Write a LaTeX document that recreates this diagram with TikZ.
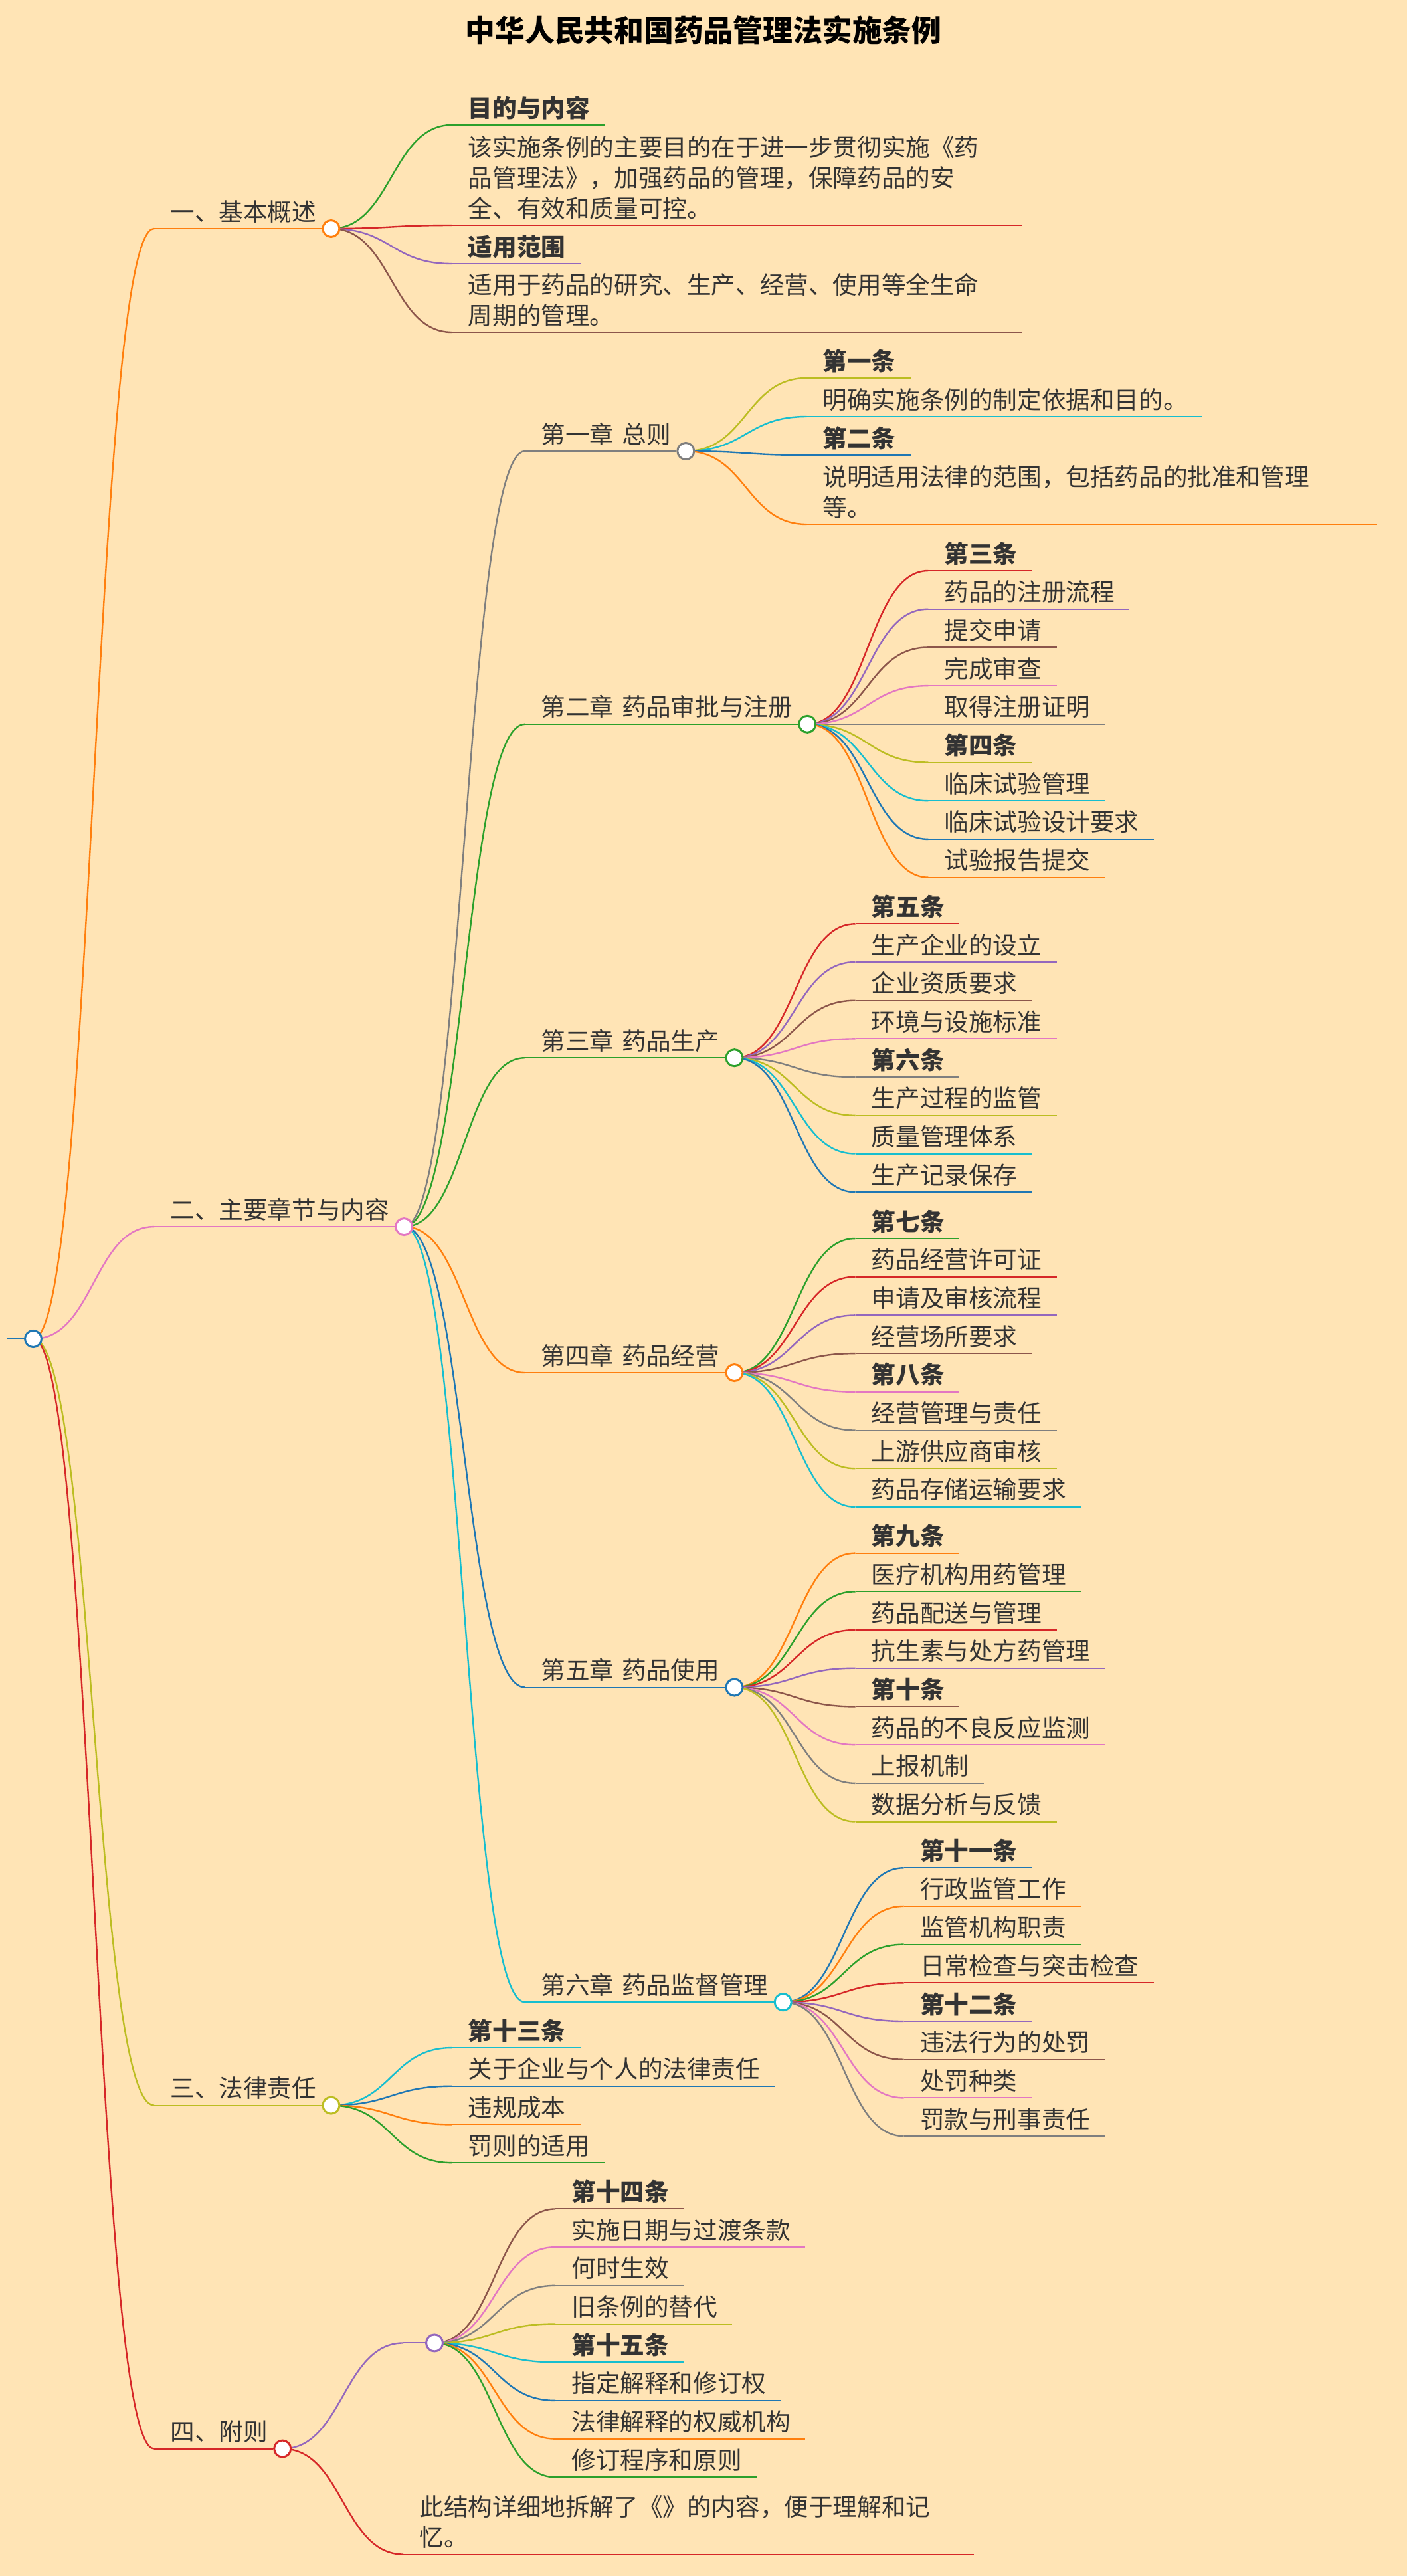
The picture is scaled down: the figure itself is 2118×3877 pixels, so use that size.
\documentclass[tikz,border=0pt]{standalone}
\usepackage{fontspec}
\setmainfont{Noto Sans CJK SC}[WordSpace=1.5]
\usetikzlibrary{calc}

\definecolor{c0}{HTML}{1F77B4}
\definecolor{c1}{HTML}{FF7F0E}
\definecolor{c2}{HTML}{2CA02C}
\definecolor{c3}{HTML}{D62728}
\definecolor{c4}{HTML}{9467BD}
\definecolor{c5}{HTML}{8C564B}
\definecolor{c6}{HTML}{E377C2}
\definecolor{c7}{HTML}{7F7F7F}
\definecolor{c8}{HTML}{BCBD22}
\definecolor{c9}{HTML}{17BECF}
\definecolor{paper}{HTML}{FFE4B5}
\definecolor{ink}{HTML}{333333}

\pgfdeclarelayer{bg}
\pgfsetlayers{bg,main}

\tikzset{
  tx/.style={anchor=base west, inner xsep=11pt, inner ysep=0pt, xshift=1pt, text=ink,
    font=\fontsize{18.3pt}{23pt}\selectfont},
  hd/.style={tx, font=\bfseries\fontsize{18.3pt}{23pt}\selectfont},
  dot/.style={circle, draw=#1, fill=white, line width=1.5pt, minimum size=12.5pt, inner sep=0pt},
  uline/.style={line width=1pt},
  link/.style={line width=1.2pt, to path={let \p1=(\tikztostart), \p2=(\tikztotarget) in
    .. controls ({(\x1+\x2)/2},\y1) and ({(\x1+\x2)/2},\y2) .. (\tikztotarget)}},
}

\begin{document}
\begin{tikzpicture}[x=0.5pt, y=-0.5pt]
\begin{pgfonlayer}{bg}
  \fill[paper] (0,0) rectangle (2118,3877);
\end{pgfonlayer}
\useasboundingbox (0,0) rectangle (2118,3877);

% title
\node[anchor=base, font=\bfseries\fontsize{22.4pt}{27pt}\selectfont] (title) at (1059,62) {中华人民共和国药品管理法实施条例};

% root
\coordinate (r-u) at (10,2015);
\node[dot=c0] (r) at (50,2015) {};
\begin{pgfonlayer}{bg}
  \draw[c0, uline] (r-u) -- (r);
\end{pgfonlayer}

% level 1
\path (r.center) ++(91pt,0) coordinate (r-x);
\foreach \col/\yy/\lab [count=\i] in {c1/344/一、基本概述, c6/1846.1/二、主要章节与内容, c8/3168.6/三、法律责任, c3/3685.5/四、附则}{
  \coordinate (l\i-u) at (r-x |- 0,\yy);
  \node[tx] (l\i-t) at ([yshift=6pt]l\i-u) {\lab};
  \node[dot=\col] (l\i) at (l\i-t.east |- l\i-u) {};
  \begin{pgfonlayer}{bg}
    \draw[\col, uline] (l\i-u) -- (l\i);
    \draw[\col, link] (r.center) to (l\i-u);
  \end{pgfonlayer}
}

% 一 children
\path (l1.center) ++(91pt,0) coordinate (l1-x);
\coordinate (l1-1) at (l1-x |- 0,188);
\node[hd] (l1-1-t) at ([yshift=6pt]l1-1) {目的与内容};
\coordinate (l1-2) at (l1-x |- 0,339);
\node[tx] (l1-2-t) at ([yshift=6pt]l1-2) {\parbox[b]{406pt}{\raggedright 该实施条例的主要目的在于进一步贯彻实施《药\\品管理法》，加强药品的管理，保障药品的安\\全、有效和质量可控。}};
\coordinate (l1-3) at (l1-x |- 0,397);
\node[hd] (l1-3-t) at ([yshift=6pt]l1-3) {适用范围};
\coordinate (l1-4) at (l1-x |- 0,500);
\node[tx] (l1-4-t) at ([yshift=6pt]l1-4) {\parbox[b]{406pt}{\raggedright 适用于药品的研究、生产、经营、使用等全生命\\周期的管理。}};
\begin{pgfonlayer}{bg}
  \foreach \i/\col in {1/c2, 2/c3, 3/c4, 4/c5}{
    \draw[\col, uline] (l1-\i) -- (l1-\i-t.east |- l1-\i);
    \draw[\col, link] (l1.center) to (l1-\i);
  }
\end{pgfonlayer}

% chapters
\path (l2.center) ++(91pt,0) coordinate (l2-x);
\foreach \col/\yy/\lab [count=\i] in {c7/679/第一章 总则, c2/1089.8/第二章 药品审批与注册, c2/1592.2/第三章 药品生产, c1/2066/第四章 药品经营, c0/2539.5/第五章 药品使用, c9/3013.2/第六章 药品监督管理}{
  \coordinate (ch\i-u) at (l2-x |- 0,\yy);
  \node[tx] (ch\i-t) at ([yshift=6pt]ch\i-u) {\lab};
  \node[dot=\col] (ch\i) at (ch\i-t.east |- ch\i-u) {};
  \begin{pgfonlayer}{bg}
    \draw[\col, uline] (ch\i-u) -- (ch\i);
    \draw[\col, link] (l2.center) to (ch\i-u);
  \end{pgfonlayer}
}

% 第一章 children
\path (ch1.center) ++(91pt,0) coordinate (ch1-x);
\coordinate (ch1-1) at (ch1-x |- 0,569);
\node[hd] (ch1-1-t) at ([yshift=6pt]ch1-1) {第一条};
\coordinate (ch1-2) at (ch1-x |- 0,627);
\node[tx] (ch1-2-t) at ([yshift=6pt]ch1-2) {明确实施条例的制定依据和目的。};
\coordinate (ch1-3) at (ch1-x |- 0,685);
\node[hd] (ch1-3-t) at ([yshift=6pt]ch1-3) {第二条};
\coordinate (ch1-4) at (ch1-x |- 0,789);
\node[tx] (ch1-4-t) at ([yshift=6pt]ch1-4) {\parbox[b]{406pt}{\raggedright 说明适用法律的范围，包括药品的批准和管理\\等。}};
\begin{pgfonlayer}{bg}
  \foreach \i/\col in {1/c8, 2/c9, 3/c0, 4/c1}{
    \draw[\col, uline] (ch1-\i) -- (ch1-\i-t.east |- ch1-\i);
    \draw[\col, link] (ch1.center) to (ch1-\i);
  }
\end{pgfonlayer}

% 四 children
\path (l4.center) ++(91pt,0) coordinate (l4-x);
\coordinate (l4-1) at (l4-x |- 0,3526.4);
\node[tx] (l4-1-t) at ([yshift=6pt]l4-1) {};
\node[dot=c4] (u) at (l4-1-t.east |- l4-1) {};
\coordinate (l4-2) at (l4-x |- 0,3844.5);
\node[tx] (l4-2-t) at ([yshift=6pt]l4-2) {\parbox[b]{406pt}{\raggedright 此结构详细地拆解了《》的内容，便于理解和记\\忆。}};
\begin{pgfonlayer}{bg}
  \draw[c4, uline] (l4-1) -- (u);
  \draw[c4, link] (l4.center) to (l4-1);
  \draw[c3, uline] (l4-2) -- (l4-2-t.east |- l4-2);
  \draw[c3, link] (l4.center) to (l4-2);
\end{pgfonlayer}

% article lists
\foreach \g/\yo/\lst in {ch2/859/{c3/hd/第三条, c4/tx/药品的注册流程, c5/tx/提交申请, c6/tx/完成审查, c7/tx/取得注册证明, c8/hd/第四条, c9/tx/临床试验管理, c0/tx/临床试验设计要求, c1/tx/试验报告提交},
  ch3/1390.3/{c3/hd/第五条, c4/tx/生产企业的设立, c5/tx/企业资质要求, c6/tx/环境与设施标准, c7/hd/第六条, c8/tx/生产过程的监管, c9/tx/质量管理体系, c0/tx/生产记录保存},
  ch4/1864/{c2/hd/第七条, c3/tx/药品经营许可证, c4/tx/申请及审核流程, c5/tx/经营场所要求, c6/hd/第八条, c7/tx/经营管理与责任, c8/tx/上游供应商审核, c9/tx/药品存储运输要求},
  ch5/2337.6/{c1/hd/第九条, c2/tx/医疗机构用药管理, c3/tx/药品配送与管理, c4/tx/抗生素与处方药管理, c5/hd/第十条, c6/tx/药品的不良反应监测, c7/tx/上报机制, c8/tx/数据分析与反馈},
  ch6/2811.2/{c0/hd/第十一条, c1/tx/行政监管工作, c2/tx/监管机构职责, c3/tx/日常检查与突击检查, c4/hd/第十二条, c5/tx/违法行为的处罚, c6/tx/处罚种类, c7/tx/罚款与刑事责任},
  l3/3082/{c9/hd/第十三条, c0/tx/关于企业与个人的法律责任, c1/tx/违规成本, c2/tx/罚则的适用},
  u/3324.4/{c5/hd/第十四条, c6/tx/实施日期与过渡条款, c7/tx/何时生效, c8/tx/旧条例的替代, c9/hd/第十五条, c0/tx/指定解释和修订权, c1/tx/法律解释的权威机构, c2/tx/修订程序和原则}}{
  \path (\g.center) ++(91pt,0) coordinate (\g-x);
  \foreach \col/\sty/\lab [count=\i] in \lst {
    \pgfmathsetmacro\yy{\yo+(\i-1)*57.7}
    \coordinate (\g-\i) at (\g-x |- 0,\yy);
    \node[\sty] (\g-\i-t) at ([yshift=6pt]\g-\i) {\lab};
    \begin{pgfonlayer}{bg}
      \draw[\col, uline] (\g-\i) -- (\g-\i-t.east |- \g-\i);
      \draw[\col, link] (\g.center) to (\g-\i);
    \end{pgfonlayer}
  }
}
\end{tikzpicture}
\end{document}
